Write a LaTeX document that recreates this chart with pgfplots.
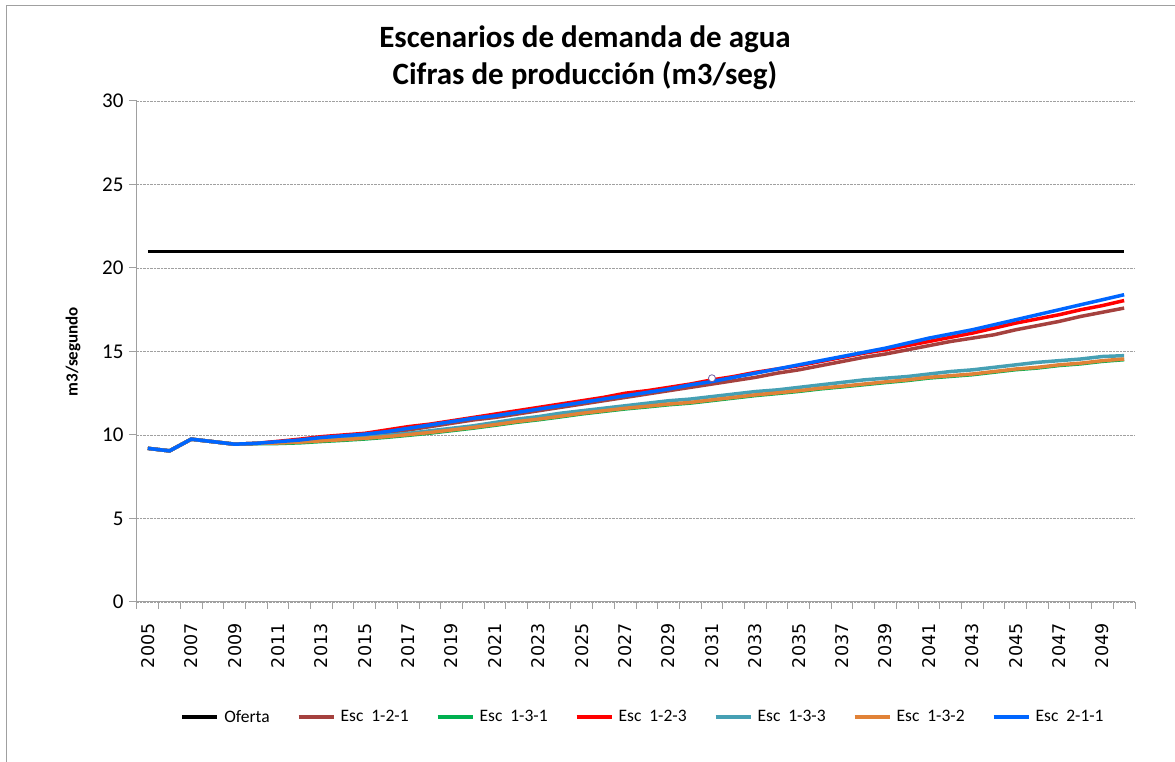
\documentclass[border=0pt]{standalone}
\usepackage{pgfplots}
\pgfplotsset{compat=1.18}
\usepackage{pgfplotstable}
\usepackage{fontspec}
\setmainfont{Carlito}
\newfontfamily\dejavu{DejaVu Sans}
\definecolor{cbrown}{RGB}{165,65,62}
\definecolor{cgreen}{RGB}{0,176,80}
\definecolor{cred}{RGB}{255,0,0}
\definecolor{cteal}{RGB}{70,160,180}
\definecolor{corange}{RGB}{225,130,55}
\definecolor{cblue}{RGB}{0,102,255}
\definecolor{cmark}{RGB}{110,90,160}
\definecolor{axgray}{RGB}{160,160,160}
\pgfplotstableread{
i ofe e121 e131 e123 e133 e132 e211
0 21 9.2 9.2 9.2 9.2 9.2 9.2
1 21 9.05 9.05 9.05 9.05 9.05 9.05
2 21 9.75 9.75 9.75 9.75 9.75 9.75
3 21 9.6 9.6 9.6 9.6 9.6 9.6
4 21 9.45 9.45 9.45 9.45 9.45 9.45
5 21 9.5 9.48 9.5 9.5 9.5 9.5
6 21 9.58 9.49 9.62 9.55 9.52 9.6
7 21 9.68 9.53 9.75 9.6 9.57 9.7
8 21 9.8 9.61 9.9 9.7 9.65 9.85
9 21 9.9 9.68 10.0 9.78 9.72 9.95
10 21 10.0 9.76 10.1 9.85 9.8 10.05
11 21 10.15 9.86 10.3 9.98 9.9 10.2
12 21 10.3 9.98 10.5 10.1 10.02 10.4
13 21 10.5 10.11 10.65 10.25 10.15 10.6
14 21 10.7 10.26 10.85 10.4 10.3 10.8
15 21 10.9 10.41 11.05 10.55 10.45 11.0
16 21 11.05 10.58 11.25 10.75 10.62 11.15
17 21 11.25 10.76 11.45 10.95 10.8 11.35
18 21 11.45 10.91 11.65 11.1 10.95 11.55
19 21 11.65 11.08 11.85 11.3 11.12 11.75
20 21 11.85 11.26 12.05 11.45 11.3 11.95
21 21 12.05 11.41 12.25 11.6 11.45 12.15
22 21 12.25 11.56 12.5 11.75 11.6 12.35
23 21 12.45 11.68 12.65 11.9 11.72 12.55
24 21 12.65 11.81 12.85 12.05 11.85 12.75
25 21 12.85 11.91 13.05 12.15 11.95 13.0
26 21 13.05 12.06 13.3 12.3 12.1 13.2
27 21 13.25 12.21 13.5 12.45 12.25 13.45
28 21 13.45 12.36 13.75 12.6 12.4 13.7
29 21 13.7 12.48 13.95 12.7 12.52 13.95
30 21 13.9 12.61 14.15 12.85 12.65 14.2
31 21 14.15 12.76 14.4 13.0 12.8 14.45
32 21 14.4 12.88 14.65 13.15 12.92 14.7
33 21 14.65 13.01 14.9 13.3 13.05 14.95
34 21 14.85 13.14 15.1 13.4 13.18 15.2
35 21 15.1 13.26 15.35 13.5 13.3 15.5
36 21 15.35 13.41 15.6 13.65 13.45 15.8
37 21 15.6 13.51 15.85 13.8 13.55 16.05
38 21 15.8 13.61 16.1 13.9 13.65 16.3
39 21 16.0 13.76 16.4 14.05 13.8 16.6
40 21 16.3 13.91 16.7 14.2 13.95 16.9
41 21 16.55 14.01 16.95 14.35 14.05 17.2
42 21 16.8 14.16 17.2 14.45 14.2 17.5
43 21 17.1 14.26 17.5 14.55 14.3 17.8
44 21 17.35 14.41 17.75 14.7 14.45 18.1
45 21 17.6 14.51 18.05 14.75 14.55 18.4
}\datatable
\begin{document}
\begin{tikzpicture}
\useasboundingbox (0,0) rectangle (1175pt,762pt);
\draw[axgray, line width=1pt] (6pt,0pt) -- (6pt,756pt) -- (1175pt,756pt);
\node[font=\fontsize{31}{37}\selectfont\bfseries, align=center] at (585pt,704pt) {Escenarios de demanda de agua\\Cifras de producción (m3/seg)};
\begin{axis}[
  at={(137pt,160pt)}, anchor=south west,
  scale only axis, width=998pt, height=501pt,
  xmin=-0.5, xmax=45.5, ymin=0, ymax=30,
  axis lines*=left,
  axis line style={axgray, line width=1pt},
  ytick={0,5,...,30},
  ymajorgrids,
  grid style={densely dotted, axgray, line width=0.8pt},
  xtick={0,2,...,44},
  xticklabels={2005,2007,2009,2011,2013,2015,2017,2019,2021,2023,2025,2027,2029,2031,2033,2035,2037,2039,2041,2043,2045,2047,2049},
  major x tick style={draw=none},
  minor xtick={-0.5,0.5,...,45.5},
  tick align=outside,
  major tick length=8pt,
  minor tick length=7pt,
  tick style={axgray, line width=1pt},
  /pgf/number format/assume math mode=true,
  yticklabel style={font=\fontsize{21}{25}\selectfont, xshift=-2pt},
  xticklabel style={font=\dejavu\fontsize{17.5}{20}\selectfont, rotate=90, anchor=east, xshift=-10pt},
  ylabel={m3/segundo},
  ylabel style={font=\fontsize{17}{20}\selectfont\bfseries, at={(axis description cs:-0.053,0.5)}, anchor=south},
  legend columns=7,
  legend style={at={(0.507,-0.2295)}, anchor=center, draw=none, fill=none,
    font=\fontsize{17.5}{20}\selectfont,
    /tikz/every odd column/.append style={column sep=3pt},
    /tikz/every even column/.append style={column sep=25pt}},
  legend image code/.code={\draw[#1, line width=4pt] (0pt,0pt) -- (35pt,0pt);},
  every axis plot/.append style={line width=3.5pt, no markers},
]
\addplot[black] table[x=i,y=ofe]{\datatable};
\addlegendentry{Oferta}
\addplot[cbrown] table[x=i,y=e121]{\datatable};
\addlegendentry{Esc\hspace{0.45em}1-2-1}
\addplot[cgreen] table[x=i,y=e131]{\datatable};
\addlegendentry{Esc\hspace{0.45em}1-3-1}
\addplot[cred] table[x=i,y=e123]{\datatable};
\addlegendentry{Esc\hspace{0.45em}1-2-3}
\addplot[cteal] table[x=i,y=e133]{\datatable};
\addlegendentry{Esc\hspace{0.45em}1-3-3}
\addplot[corange] table[x=i,y=e132]{\datatable};
\addlegendentry{Esc\hspace{0.45em}1-3-2}
\addplot[cblue] table[x=i,y=e211]{\datatable};
\addlegendentry{Esc\hspace{0.45em}2-1-1}
\addplot[color=cmark, only marks, mark=*, mark size=3.5pt, mark options={fill=white, draw=cmark, line width=0.8pt}, forget plot] coordinates {(26,13.4)};
\end{axis}
\end{tikzpicture}
\end{document}
